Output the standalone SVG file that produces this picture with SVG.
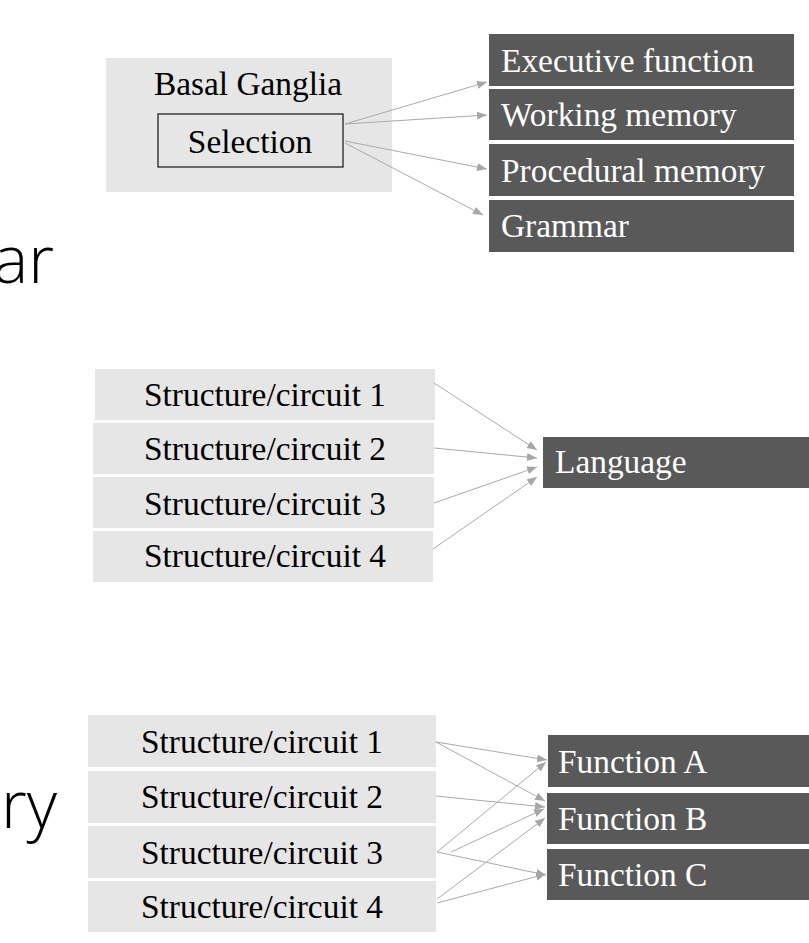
<svg xmlns="http://www.w3.org/2000/svg" width="809" height="943" viewBox="0 0 809 943">
<style>
.light{fill:#e7e6e6}
.dark{fill:#595959}
.t{font-family:"Liberation Serif","Times New Roman",serif;font-size:33.4px;fill:#000}
.w{font-family:"Liberation Serif","Times New Roman",serif;font-size:33.4px;fill:#fff}
.big{font-family:"Open Sans","Noto Sans",sans-serif;font-weight:300;font-size:66px;fill:#000}
.c{stroke:#aaaaaa;stroke-width:1;fill:none;marker-end:url(#ah)}
</style>
<defs>
<marker id="ah" markerUnits="userSpaceOnUse" markerWidth="12" markerHeight="10" refX="10" refY="4" orient="auto">
<path d="M0,0 L10,4 L0,8 Z" fill="#a6a6a6"/>
</marker>
</defs>
<rect width="809" height="943" fill="#fff"/>
<text class="big" x="54" y="283" text-anchor="end">ar</text>
<text class="big" x="57" y="828" text-anchor="end">ry</text>

<g id="basal-ganglia">
<rect class="light" x="106" y="58" width="286" height="134"/>
<text class="t" x="248" y="95" text-anchor="middle">Basal Ganglia</text>
</g>
<g id="selection">
<rect x="158" y="114" width="185" height="53" fill="#e7e6e6" stroke="#222" stroke-width="1.3"/>
<text class="t" x="250" y="153" text-anchor="middle">Selection</text>
</g>
<g id="executive-function">
<rect class="dark" x="489" y="34" width="305" height="52"/>
<text class="w" x="501" y="72">Executive function</text>
</g>
<g id="working-memory">
<rect class="dark" x="489" y="89" width="305" height="51"/>
<text class="w" x="501" y="126">Working memory</text>
</g>
<g id="procedural-memory">
<rect class="dark" x="489" y="144" width="305" height="52"/>
<text class="w" x="501" y="182">Procedural memory</text>
</g>
<g id="grammar">
<rect class="dark" x="489" y="200" width="305" height="52"/>
<text class="w" x="501" y="237">Grammar</text>
</g>

<g id="m-s1"><rect class="light" x="95" y="369" width="340" height="51"/><text class="t" x="265" y="406" text-anchor="middle">Structure/circuit 1</text></g>
<g id="m-s2"><rect class="light" x="93" y="423" width="341" height="51"/><text class="t" x="265" y="460" text-anchor="middle">Structure/circuit 2</text></g>
<g id="m-s3"><rect class="light" x="93" y="477" width="341" height="51"/><text class="t" x="265" y="515" text-anchor="middle">Structure/circuit 3</text></g>
<g id="m-s4"><rect class="light" x="93" y="531" width="340" height="51"/><text class="t" x="265" y="567" text-anchor="middle">Structure/circuit 4</text></g>
<g id="language"><rect class="dark" x="543" y="437" width="266" height="51"/><text class="w" x="555" y="473">Language</text></g>

<g id="b-s1"><rect class="light" x="88" y="715" width="348" height="52"/><text class="t" x="262" y="753" text-anchor="middle">Structure/circuit 1</text></g>
<g id="b-s2"><rect class="light" x="88" y="771" width="348" height="52"/><text class="t" x="262" y="808" text-anchor="middle">Structure/circuit 2</text></g>
<g id="b-s3"><rect class="light" x="88" y="826" width="348" height="52"/><text class="t" x="262" y="864" text-anchor="middle">Structure/circuit 3</text></g>
<g id="b-s4"><rect class="light" x="88" y="881" width="348" height="51"/><text class="t" x="262" y="918" text-anchor="middle">Structure/circuit 4</text></g>
<g id="function-a"><rect class="dark" x="548" y="735" width="261" height="52"/><text class="w" x="558" y="773">Function A</text></g>
<g id="function-b"><rect class="dark" x="547" y="793" width="262" height="51"/><text class="w" x="558" y="830">Function B</text></g>
<g id="function-c"><rect class="dark" x="547" y="849" width="262" height="51"/><text class="w" x="558" y="886">Function C</text></g>

<g id="connectors">
<line class="c" x1="345" y1="124" x2="487" y2="82"/>
<line class="c" x1="345" y1="124" x2="487" y2="115"/>
<line class="c" x1="345" y1="141" x2="487" y2="169"/>
<line class="c" x1="345" y1="143" x2="483" y2="215"/>

<line class="c" x1="434" y1="383" x2="537" y2="450"/>
<line class="c" x1="434" y1="448" x2="537" y2="458"/>
<line class="c" x1="434" y1="503" x2="537" y2="467"/>
<line class="c" x1="433" y1="549" x2="537" y2="477"/>

<line class="c" x1="436" y1="742" x2="547" y2="760"/>
<line class="c" x1="436" y1="742" x2="545" y2="801"/>
<line class="c" x1="436" y1="796" x2="545" y2="807"/>
<line class="c" x1="437" y1="852" x2="546" y2="762"/>
<line class="c" x1="451" y1="852" x2="544" y2="809"/>
<line class="c" x1="437" y1="852" x2="546" y2="875"/>
<line class="c" x1="437" y1="899" x2="545" y2="818"/>
<line class="c" x1="437" y1="903" x2="546" y2="874"/>
</g>
</svg>
